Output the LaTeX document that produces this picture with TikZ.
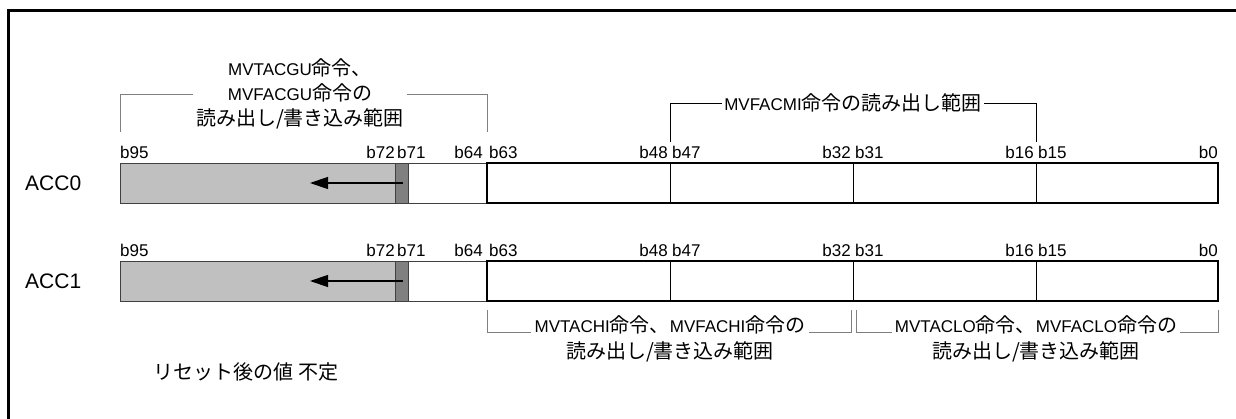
\documentclass[tikz,border=0pt]{standalone}
\usepackage{fontspec}
\setmainfont{Liberation Sans}
\newfontfamily\jpfont{Noto Sans CJK JP}
\newcommand\ja[1]{{\jpfont\fontsize{20}{25}\selectfont #1}}
\usetikzlibrary{arrows.meta}
\definecolor{regfill}{HTML}{C0C0C0}
\definecolor{regmark}{HTML}{808080}
\definecolor{brgray}{HTML}{7F7F7F}
\tikzset{
  bit/.style={font=\fontsize{17}{20}\selectfont, inner sep=0pt},
  regname/.style={font=\fontsize{21}{24}\selectfont, inner sep=0pt, anchor=west},
  rangetext/.style={font=\fontsize{17}{25}\selectfont, inner xsep=3pt, inner ysep=0pt, align=center},
  bracket/.style={draw=brgray, line width=0.8pt},
  boldbox/.style={line width=2.6pt},
}

\begin{document}
\begin{tikzpicture}[x=1pt, y=-1pt, >={Triangle[length=18pt,width=12pt]}]
\useasboundingbox (0,0) rectangle (1236,419);
\draw [line width=3pt] (8.5,440) -- (8.5,10.5) -- (1260,10.5);

\foreach \r/\s in {0/0, 1/-98} {
\begin {scope}[yshift=\s pt]
  \fill [regfill] (120,163) rectangle (395,203);
  \fill [regmark] (395,163) rectangle (408,203);
  \draw [darkgray] (120,163) rectangle (487,203);
  \draw [darkgray] (395,163) -- (395,203) (408,163) -- (408,203);
  \draw [boldbox] (487,163) rectangle (1218,203);
  \foreach \x in {670,853,1036} \draw (\x,163) -- (\x,203);
  \coordinate (tail\r) at (403,183);
  \coordinate (tip\r) at (310,183);
  \draw [->, line width=1.3pt] (tail\r) -- (tip\r);
  \node [regname] (acc\r) at (25,183) {ACC\r};
  \foreach \x/\t/\a in {120/b95/west, 395/b72/east, 397/b71/west, 483/b64/east,
      489/b63/west, 668/b48/east, 672/b47/west, 851/b32/east,
      855/b31/west, 1034/b16/east, 1038/b15/west, 1218/b0/east}
    \node [bit, anchor=base \a] (\t-\r) at (\x,159) {\t};
\end {scope}
}

\node [rangetext] (gu) at (300,94) {MVTACGU\ja{命令、}\\MVFACGU\ja{命令の}\\\ja{読み出し/書き込み範囲}};
\coordinate (gul) at (120,132);
\coordinate (gur) at (487,132);
\draw [bracket] (gul) |- (gu.west);
\draw [bracket] (gur) |- (gu.east);

\node [rangetext, inner xsep=2pt] (mi) at (853,103) {MVFACMI\ja{命令の読み出し範囲}};
\coordinate (mil) at (670,142);
\coordinate (mir) at (1036,142);
\draw (mil) |- (mi.west);
\draw (mir) |- (mi.east);

\node [rangetext] (hi) at (670,325) {MVTACHI\ja{命令、}MVFACHI\ja{命令の}};
\node [rangetext] (hi2) at (670,352) {\ja{読み出し/書き込み範囲}};
\coordinate (hil) at (487,310);
\coordinate (hir) at (851,310);
\draw [bracket] (hil) |- (hi.base west);
\draw [bracket] (hir) |- (hi.base east);

\node [rangetext] (lo) at (1036,325) {MVTACLO\ja{命令、}MVFACLO\ja{命令の}};
\node [rangetext] (lo2) at (1036,352) {\ja{読み出し/書き込み範囲}};
\coordinate (lol) at (856,310);
\coordinate (lor) at (1218,310);
\draw [bracket] (lol) |- (lo.base west);
\draw [bracket] (lor) |- (lo.base east);

\node [rangetext] (reset) at (246,372) {\ja{リセット後の値 不定}};
\end{tikzpicture}
\end{document}
